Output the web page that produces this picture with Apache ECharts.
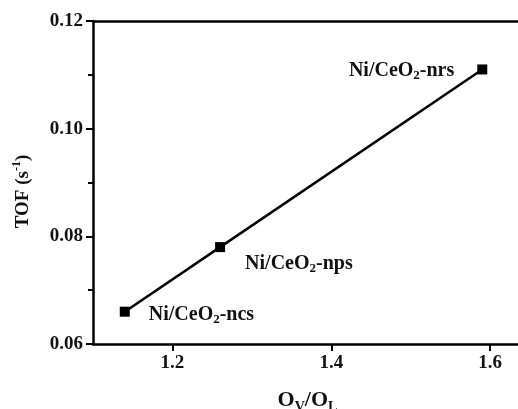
<!DOCTYPE html>
<html><head><meta charset="utf-8">
<script src="https://cdn.jsdelivr.net/npm/echarts@6/dist/echarts.min.js"></script>
<style>html,body{margin:0;padding:0;background:#fff}#c{width:518px;height:409px}</style>
</head><body><div id="c"></div>
<script>
const ovol = [1.14, 1.26, 1.59];
const tof = [0.066, 0.078, 0.111];
const sampleSuffix = ['ncs', 'nps', 'nrs'];
const xTicks = [1.2, 1.4, 1.6];
const yTicks = [0.06, 0.08, 0.10, 0.12];

const font = '"Liberation Serif", "Times New Roman", serif';
const rich = {
  b: {fontFamily: font, fontWeight: 'bold', fontSize: 20, color: '#111'},
  s: {fontFamily: font, fontWeight: 'bold', fontSize: 13, color: '#111', padding: [10, 0, 0, 0]}
};
const labelPos = [
  {position: 'right', offset: [14, 3]},
  {position: 'right', offset: [15, 17]},
  {position: 'left', offset: [-18, 1]}
];
const data = ovol.map((x, i) => ({
  value: [x, tof[i]],
  label: Object.assign({show: true, formatter: '{b|Ni/CeO}{s|2}{b|-' + sampleSuffix[i] + '}', rich: rich}, labelPos[i])
}));

const chart = echarts.init(document.getElementById('c'), null, {renderer: 'canvas'});
const axisCommon = {
  axisLine: {show: true, lineStyle: {color: '#000', width: 2.5}},
  splitLine: {show: false},
  minorTick: {show: true, splitNumber: 2, length: 5, lineStyle: {color: '#000', width: 2}},
  axisTick: {show: true, inside: false, length: 7, lineStyle: {color: '#000', width: 2}}
};
chart.setOption({
  animation: false,
  backgroundColor: '#fff',
  grid: {left: 93, top: 21, right: -4, bottom: 65, outerBoundsMode: 'none', containLabel: false},
  xAxis: [Object.assign({
    type: 'value', min: 1.1, max: 1.64, interval: 0.2,
    name: '{b|O}{s|V}{b|/O}{s|L}',
    nameLocation: 'middle', nameGap: 43,
    nameTextStyle: {rich: {
      b: {fontFamily: font, fontWeight: 'bold', fontSize: 22, color: '#111'},
      s: {fontFamily: font, fontWeight: 'bold', fontSize: 14, color: '#111', padding: [13, 0, 0, 0]}
    }},
    axisLabel: {fontFamily: font, fontWeight: 'bold', fontSize: 19, color: '#111', margin: 10,
      customValues: xTicks, formatter: v => v.toFixed(1)},
  }, axisCommon, {axisTick: {show: true, length: 7, lineStyle: {color: '#000', width: 2}, customValues: xTicks}}),
  {type: 'value', position: 'top', min: 1.1, max: 1.64, axisLine: {show: true, lineStyle: {color: '#000', width: 2.5}},
   axisTick: {show: false}, axisLabel: {show: false}, splitLine: {show: false}}],
  yAxis: [Object.assign({
    type: 'value', min: 0.06, max: 0.12, interval: 0.02,
    name: '{b|TOF (s}{p|-1}{b|)}',
    nameLocation: 'middle', nameGap: 58, nameRotate: 90,
    nameTextStyle: {padding: [0, 18, 0, 0], rich: {
      b: {fontFamily: font, fontWeight: 'bold', fontSize: 19, color: '#111'},
      p: {fontFamily: font, fontWeight: 'bold', fontSize: 12, color: '#111', padding: [0, 0, 12, 0]}
    }},
    axisLabel: {fontFamily: font, fontWeight: 'bold', fontSize: 19, color: '#111', margin: 10,
      formatter: v => v.toFixed(2)}
  }, axisCommon),
  {type: 'value', position: 'right', min: 0.06, max: 0.12, axisLine: {show: false},
   axisTick: {show: false}, axisLabel: {show: false}, splitLine: {show: false}}],
  series: [{
    type: 'line', data: data, symbol: 'rect', symbolSize: 10,
    itemStyle: {color: '#000'}, lineStyle: {color: '#000', width: 2.5}
  }]
});
</script></body></html>
